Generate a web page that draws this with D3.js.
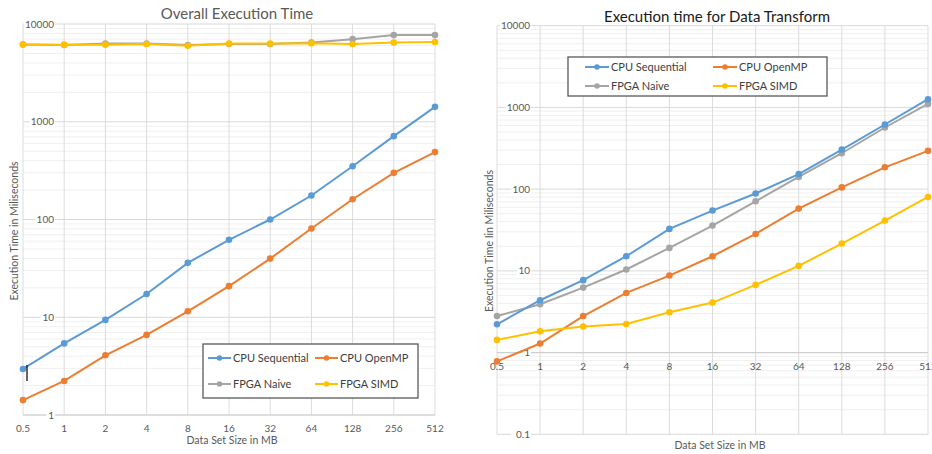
<!DOCTYPE html>
<html><head><meta charset="utf-8">
<script src="https://cdn.jsdelivr.net/npm/d3@7"></script>
<style>body{margin:0;background:#fff}svg{display:block;font-family:Lato,"Open Sans",sans-serif}</style>
</head><body><svg id="c" width="932" height="454"></svg>
<script>
const sizes = ["0.5","1","2","4","8","16","32","64","128","256","512"];
const seriesNames = ["CPU Sequential","CPU OpenMP","FPGA Naive","FPGA SIMD"];
const colors = ["#5b9bd5","#ed7d31","#a5a5a5","#ffc000"];
// Overall Execution Time (ms)
const overallCpuSeq = [2.96,5.4,9.4,17.3,36,62,100,176,351,712,1420];
const overallCpuOmp = [1.42,2.23,4.08,6.6,11.5,20.8,39.8,81,161,300,489];
const overallFpgaNaive = [6170,6100,6300,6300,6100,6250,6250,6450,7000,7700,7700];
const overallFpgaSimd = [6170,6150,6150,6250,6000,6300,6300,6350,6250,6450,6550];
// Data Transform (ms)
const transCpuSeq = [2.22,4.37,7.7,15.1,32.6,54.7,88.4,153,305,618,1260];
const transCpuOmp = [0.78,1.29,2.8,5.37,8.76,15.1,28.3,57.8,105,185,294];
const transFpgaNaive = [2.8,3.9,6.24,10.4,19.1,35.8,71,141,275,568,1104];
const transFpgaSimd = [1.43,1.82,2.08,2.24,3.11,4.09,6.73,11.5,21.6,41.3,80.3];
const leftTicks = [1,10,100,1000,10000];
const rightTicks = [0.1,1,10,100,1000,10000];

const svg = d3.select("#c");

function chart(o){
  const g = svg.append("g");
  const x = d3.scalePoint().domain(sizes).range([o.x0,o.x1]).padding(0);
  const y = d3.scaleLog().domain(o.domain).range([o.y1,o.y0]);
  const minors=[];
  for(let d=o.domain[0]; d<o.domain[1]-1e-9; d*=10){ for(let k=2;k<10;k++) minors.push(d*k); }
  g.selectAll(".mn").data(minors).join("line")
    .attr("x1",o.x0).attr("x2",o.x1).attr("y1",d=>y(d)).attr("y2",d=>y(d))
    .attr("stroke","#f0f0f0").attr("stroke-width",1);
  g.selectAll(".vg").data(sizes).join("line")
    .attr("x1",d=>x(d)).attr("x2",d=>x(d)).attr("y1",o.y0).attr("y2",o.y1)
    .attr("stroke","#dcdcdc").attr("stroke-width",1);
  g.selectAll(".mj").data(o.ticks).join("line")
    .attr("x1",o.x0).attr("x2",o.x1).attr("y1",d=>y(d)).attr("y2",d=>y(d))
    .attr("stroke","#d9d9d9").attr("stroke-width",1);
  g.append("line").attr("x1",o.x0).attr("x2",o.x1).attr("y1",y(o.cross)).attr("y2",y(o.cross))
    .attr("stroke","#cfcfcf").attr("stroke-width",1.2);
  const fmt = d=> d<1? String(d) : d3.format("d")(d);
  const yl = g.selectAll(".yl").data(o.ticks).join("g").attr("transform",d=>`translate(${o.ylx},${y(d)})`);
  yl.append("rect").attr("x",d=>-fmt(d).length*5.6-2).attr("y",-6).attr("width",d=>fmt(d).length*5.6+3).attr("height",11).attr("fill","#fff");
  yl.append("text").attr("text-anchor","end").attr("dy","0.35em").attr("font-size",10).attr("fill","#595959").text(fmt);
  g.selectAll(".xl").data(sizes).join("text")
    .attr("x",d=>x(d)).attr("y",o.xly).attr("text-anchor","middle").attr("font-size",10).attr("fill","#595959").text(d=>d);
  const line = d3.line().x((d,i)=>x(sizes[i])).y(d=>y(d));
  o.order.forEach(si=>{
    const vals=o.series[si];
    g.append("path").datum(vals).attr("d",line).attr("fill","none").attr("stroke",colors[si]).attr("stroke-width",2);
    g.selectAll(".pt"+si).data(vals).join("circle").attr("cx",(d,i)=>x(sizes[i])).attr("cy",d=>y(d)).attr("r",3.3).attr("fill",colors[si]);
  });
  g.append("text").attr("x",o.tx).attr("y",o.ty).attr("text-anchor","middle").attr("font-size",o.tsize).attr("fill",o.tcol).text(o.title);
  g.append("text").attr("transform",`translate(${o.yTitleX},${o.yTitleY}) rotate(-90)`).attr("text-anchor","middle").attr("dy","0.35em")
    .attr("font-size",10.5).attr("fill","#595959").text(o.yTitle);
  g.append("text").attr("x",o.xTitleX).attr("y",o.xTitleY).attr("text-anchor","middle").attr("font-size",10.5).attr("fill","#595959").text("Data Set Size in MB");
  const L=o.legend;
  g.append("rect").attr("x",L.x).attr("y",L.y).attr("width",L.w).attr("height",L.h).attr("fill","#fff").attr("stroke","#595959").attr("stroke-width",1.3);
  seriesNames.forEach((n,i)=>{
    const cx = L.x + (i%2===0? L.c1 : L.c2);
    const cy = L.y + (i<2? L.r1 : L.r2);
    g.append("line").attr("x1",cx).attr("x2",cx+L.lw).attr("y1",cy).attr("y2",cy).attr("stroke",colors[i]).attr("stroke-width",2);
    g.append("circle").attr("cx",cx+L.lw/2).attr("cy",cy).attr("r",2.8).attr("fill",colors[i]);
    g.append("text").attr("x",cx+L.lw+2).attr("y",cy).attr("dy","0.35em").attr("font-size",11).attr("fill","#404040").text(n);
  });
  return g;
}

chart({x0:23,x1:435,y0:24,y1:415,domain:[1,10000],ticks:leftTicks,cross:1,ylx:54,xly:432,
  series:[overallCpuSeq,overallCpuOmp,overallFpgaNaive,overallFpgaSimd],order:[0,1,2,3],
  title:"Overall Execution Time",tx:237,ty:19,tsize:15,tcol:"#595959",
  yTitle:"Execution Time in Miliseconds",yTitleX:14,yTitleY:231,xTitleX:232,xTitleY:444,
  legend:{x:203,y:344,w:215,h:54,c1:5,c2:112,r1:14,r2:40,lw:23}});
chart({x0:497,x1:928,y0:25.7,y1:434.3,domain:[0.1,10000],ticks:rightTicks,cross:1,ylx:530,xly:370,
  series:[transCpuSeq,transCpuOmp,transFpgaNaive,transFpgaSimd],order:[2,0,1,3],
  title:"Execution time for Data Transform",tx:717,ty:22,tsize:15,tcol:"#1a1a1a",
  yTitle:"Execution Time Iin Miliseconds",yTitleX:489,yTitleY:241,xTitleX:720,xTitleY:449,
  legend:{x:568,y:57,w:259,h:39,c1:17,c2:145,r1:10,r2:29,lw:24}});
svg.append("line").attr("x1",27).attr("x2",27).attr("y1",365).attr("y2",381).attr("stroke","#000").attr("stroke-width",1.2);
</script></body></html>
